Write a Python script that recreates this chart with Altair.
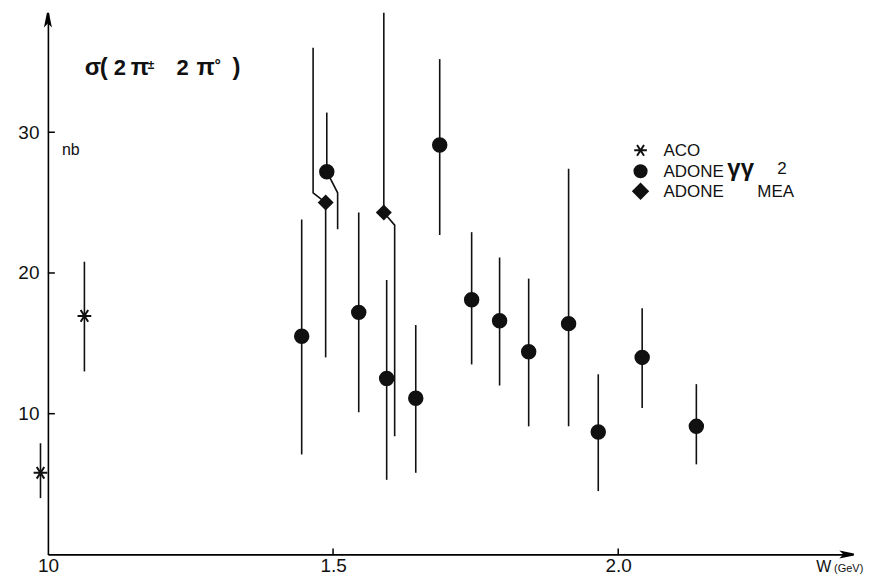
import altair as alt
import pandas as pd

# ---------------- data ----------------
series_names = ["ACO", "ADONE γγ 2", "ADONE MEA"]

aco_x = [0.987, 1.064]
aco_y = [5.8, 16.95]
aco_lo = [4.0, 13.0]
aco_hi = [7.9, 20.8]

gg_x = [1.445, 1.489, 1.545, 1.594, 1.645, 1.687, 1.743, 1.792, 1.843, 1.913, 1.965, 2.042, 2.137]
gg_y = [15.5, 27.2, 17.2, 12.5, 11.1, 29.1, 18.1, 16.6, 14.4, 16.4, 8.7, 14.0, 9.1]
gg_lo = [7.1, 23.1, 10.1, 5.3, 5.8, 22.7, 13.5, 12.0, 9.1, 9.1, 4.5, 10.4, 6.4]
gg_hi = [23.8, 31.4, 24.3, 19.5, 16.3, 35.2, 22.9, 21.1, 19.6, 27.4, 12.8, 17.5, 12.1]

mea_x = [1.487, 1.589]
mea_y = [25.0, 24.3]
mea_lo = [14.0, 8.4]
mea_hi = [36.0, 38.5]

# error bars drawn displaced (with a short diagonal) in the original
kink_series = ["ADONE γγ 2", "ADONE MEA", "ADONE MEA"]
kink_index = [1, 0, 1]
kink_side = ["lo", "hi", "lo"]
kink_shift = [0.019, -0.022, 0.019]
kink_bend = [25.7, 25.7, 23.4]

x_tick_values = [1.5, 2.0]
y_tick_values = [10, 20, 30]

# ---------------- layout ----------------
W, H = 806, 543
X0, X1 = 1.0, 2.41
Y0, Y1 = 0, 38.5
FONT = "Liberation Sans"
INK = "#111111"

asterisk = "M-1,0L1,0M-0.55,-0.85L0.55,0.85M-0.55,0.85L0.55,-0.85"
shape_range = [asterisk, "circle", "diamond"]
size_range = [190, 175, 250]

series_data = {
    "ACO": (aco_x, aco_y, aco_lo, aco_hi),
    "ADONE γγ 2": (gg_x, gg_y, gg_lo, gg_hi),
    "ADONE MEA": (mea_x, mea_y, mea_lo, mea_hi),
}

kinks = {(s, i): (side, sh, b) for s, i, side, sh, b in
         zip(kink_series, kink_index, kink_side, kink_shift, kink_bend)}

pts, errs, klines = [], [], []
g = 0
for name in series_names:
    xs, ys, los, his = series_data[name]
    for i, (x, y, lo, hi) in enumerate(zip(xs, ys, los, his)):
        pts.append({"series": name, "x": x, "y": y})
        if (name, i) in kinks:
            side, sh, b = kinks[(name, i)]
            if side == "lo":
                errs.append({"x": x, "y1": y, "y2": hi})
                end = lo
            else:
                errs.append({"x": x, "y1": lo, "y2": y})
                end = hi
            klines += [
                {"g": g, "o": 0, "x": x, "y": y},
                {"g": g, "o": 1, "x": x + sh, "y": b},
                {"g": g, "o": 2, "x": x + sh, "y": end},
            ]
            g += 1
        else:
            errs.append({"x": x, "y1": lo, "y2": hi})

pts_df = pd.DataFrame(pts)
err_df = pd.DataFrame(errs)
kink_df = pd.DataFrame(klines)

xscale = alt.Scale(domain=[X0, X1], nice=False, zero=False)
yscale = alt.Scale(domain=[Y0, Y1], nice=False, zero=False)

axis_common = dict(grid=False, ticks=False, tickSize=0, domainColor="black",
                   domainWidth=1.6, labelColor=INK, labelFont=FONT,
                   labelFontSize=19, title=None, labelFlush=False, labelOverlap=False)

xenc = alt.X("x:Q", scale=xscale, axis=alt.Axis(
    values=[1.0, 1.5, 2.0],
    labelExpr="datum.value == 1 ? '10' : format(datum.value, '.1f')",
    labelPadding=2, **axis_common))
yenc = alt.Y("y:Q", scale=yscale, axis=alt.Axis(
    values=y_tick_values, labelPadding=9, **axis_common))

rules = alt.Chart(err_df).mark_rule(color=INK, strokeWidth=1.6).encode(
    x=alt.X("x:Q", scale=xscale), y=alt.Y("y1:Q", scale=yscale), y2="y2:Q")

kink_layer = alt.Chart(kink_df).mark_line(color=INK, strokeWidth=1.6).encode(
    x=alt.X("x:Q", scale=xscale), y=alt.Y("y:Q", scale=yscale),
    detail="g:N", order="o:Q")

points = alt.Chart(pts_df).mark_point(
    filled=True, fill=INK, stroke=INK, strokeWidth=2, opacity=1
).encode(
    x=xenc, y=yenc,
    shape=alt.Shape("series:N", scale=alt.Scale(domain=series_names, range=shape_range),
                    legend=None),
    size=alt.Size("series:N", scale=alt.Scale(domain=series_names, range=size_range),
                  legend=None),
)

ytick_layer = alt.Chart(pd.DataFrame({"v": y_tick_values})).mark_rule(
    color="black", strokeWidth=1.5).encode(
    y=alt.Y("v:Q", scale=yscale), x=alt.value(0), x2=alt.value(7))
xtick_layer = alt.Chart(pd.DataFrame({"v": x_tick_values})).mark_rule(
    color="black", strokeWidth=1.5).encode(
    x=alt.X("v:Q", scale=xscale), y=alt.value(H), y2=alt.value(H - 6))

arrow_up = alt.Chart(pd.DataFrame({"a": [0]})).mark_point(
    shape="M0,-1L-0.35,0.7L0,0.35L0.35,0.7Z", filled=True, fill="black",
    stroke="black", size=180, opacity=1).encode(x=alt.value(0), y=alt.value(7))
arrow_right = alt.Chart(pd.DataFrame({"a": [0]})).mark_point(
    shape="M1,0L-0.7,-0.35L-0.35,0L-0.7,0.35Z", filled=True, fill="black",
    stroke="black", size=180, opacity=1).encode(x=alt.value(W - 5), y=alt.value(H))


def label(t, px, py, fs, weight="normal", baseline="alphabetic"):
    return alt.Chart(pd.DataFrame({"a": [0]})).mark_text(
        font=FONT, fontSize=fs, fontWeight=weight, color=INK, align="left",
        baseline=baseline).encode(x=alt.value(px), y=alt.value(py), text=alt.value(t))


# title glyphs: sigma(2 pi^± 2 pi^°)
glyphs = [("σ", 37, 62, 24), ("(", 52, 62, 24), ("2", 66, 62, 22), ("π", 83, 62, 24),
          ("±", 100, 56, 12), ("2", 129, 62, 22), ("π", 149, 62, 24),
          ("°", 167, 58, 16), (")", 185, 62, 24)]
title_layers = [label(t, px, py, fs, "bold") for t, px, py, fs in glyphs]

# legend (symbols from the same shape list as the data)
leg_x, leg_text_x = 594, 617
leg_rows = [138, 159, 179]
legend_layers = []
for shp, sz, ry in zip(shape_range, size_range, leg_rows):
    legend_layers.append(
        alt.Chart(pd.DataFrame({"a": [0]})).mark_point(
            shape=shp, filled=True, fill=INK, stroke=INK, strokeWidth=2, opacity=1,
            size=sz * 0.85).encode(x=alt.value(leg_x), y=alt.value(ry)))
legend_layers += [
    label("ACO", leg_text_x, leg_rows[0] + 6, 17),
    label("ADONE", leg_text_x, leg_rows[1] + 6, 17),
    label("γγ", 681, leg_rows[1] + 5, 24, "bold"),
    label("2", 731, leg_rows[1] + 3, 17),
    label("ADONE", leg_text_x, leg_rows[2] + 6, 17),
    label("MEA", 711, leg_rows[2] + 6, 17),
]

extra = [label("nb", 14, 143, 16), label("W", 770, 561, 16), label("(GeV)", 788, 561, 11)]

chart = alt.layer(
    rules, kink_layer, ytick_layer, xtick_layer, points, arrow_up, arrow_right,
    *title_layers, *legend_layers, *extra
).properties(
    width=W, height=H,
    autosize=alt.AutoSizeParams(type="none"),
    padding={"left": 40, "top": 4, "right": 20, "bottom": 26},
    background="white",
).configure_view(stroke=None)

chart.save("out.html", embed_options={"renderer": "svg", "actions": False})
